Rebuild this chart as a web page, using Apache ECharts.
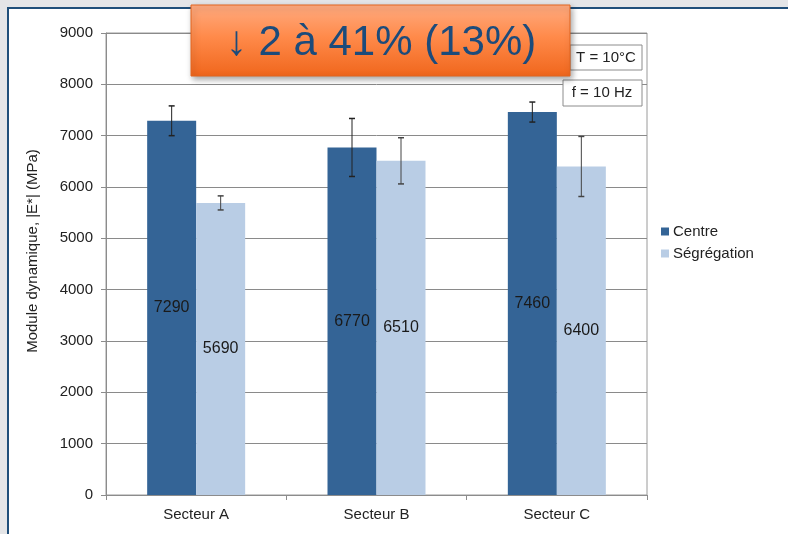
<!DOCTYPE html>
<html>
<head>
<meta charset="utf-8">
<script src="https://cdn.jsdelivr.net/npm/echarts@6/dist/echarts.min.js"></script>
<style>
  html, body { margin: 0; padding: 0; background: #e4e5e7; }
  #frame { position: absolute; left: 7px; top: 7px; width: 800px; height: 560px; background: #ffffff; border: 2px solid #1f4e79; }
  #chart { position: absolute; left: 0; top: 0; width: 788px; height: 534px; }
</style>
</head>
<body>
<div id="frame"></div>
<div id="chart"></div>
<script>
const categories = ['Secteur A', 'Secteur B', 'Secteur C'];
const centreValues = [7290, 6770, 7460];
const segregationValues = [5690, 6510, 6400];
const centreErrors = [290, 565, 195];
const segregationErrors = [137, 450, 585];
const yTicks = { min: 0, max: 9000, interval: 1000 };
const seriesNames = ['Centre', 'Ségrégation'];
const yAxisTitle = 'Module dynamique, |E*| (MPa)';
const titleText = '↓ 2 à 41% (13%)';
const noteT = 'T = 10°C';
const noteF = 'f = 10 Hz';

const FONT = 'Liberation Sans, Arial, sans-serif';
const BAR_W = 49;

function errData(vals, errs) {
  return vals.map((v, i) => [i, v - errs[i], v + errs[i]]);
}
function errRender(offset, color) {
  return function (params, api) {
    const x = api.value(0);
    const lo = api.coord([x, api.value(1)]);
    const hi = api.coord([x, api.value(2)]);
    const cx = lo[0] + offset;
    const cap = 3;
    return {
      type: 'group',
      children: [
        { type: 'line', shape: { x1: cx, y1: hi[1], x2: cx, y2: lo[1] }, style: { stroke: color, lineWidth: 1 } },
        { type: 'line', shape: { x1: cx - cap, y1: hi[1], x2: cx + cap, y2: hi[1] }, style: { stroke: color, lineWidth: 1.5 } },
        { type: 'line', shape: { x1: cx - cap, y1: lo[1], x2: cx + cap, y2: lo[1] }, style: { stroke: color, lineWidth: 1.5 } }
      ]
    };
  };
}

const chart = echarts.init(document.getElementById('chart'), null, { renderer: 'canvas' });
chart.setOption({
  backgroundColor: 'transparent',
  animation: false,
  textStyle: { fontFamily: FONT },
  grid: { left: 106, right: 141, top: 33, bottom: 39, show: true, borderColor: '#9a9a9a', borderWidth: 1, backgroundColor: 'transparent' },
  legend: {
    orient: 'vertical', left: 656, top: 219, itemWidth: 8, itemHeight: 8, itemGap: 7,
    icon: 'rect',
    textStyle: { fontSize: 15, color: '#222', fontFamily: FONT, padding: [0, 0, 0, -1] },
    data: seriesNames
  },
  xAxis: {
    type: 'category', data: categories,
    axisLine: { lineStyle: { color: '#8c8c8c' } },
    axisTick: { show: true, length: 5, lineStyle: { color: '#8c8c8c' } },
    axisLabel: { fontSize: 15, color: '#222', margin: 12, fontFamily: FONT },
    splitLine: { show: false }
  },
  yAxis: {
    type: 'value', min: yTicks.min, max: yTicks.max, interval: yTicks.interval,
    axisLine: { show: true, lineStyle: { color: '#8c8c8c' } },
    axisTick: { show: true, length: 5, lineStyle: { color: '#8c8c8c' } },
    axisLabel: { fontSize: 15, color: '#222', margin: 13, fontFamily: FONT, formatter: v => String(v) },
    splitLine: { lineStyle: { color: '#8a8a8a', width: 1 } }
  },
  series: [
    {
      name: seriesNames[0], type: 'bar', data: centreValues, barWidth: BAR_W, barGap: '0%',
      itemStyle: { color: '#346496' },
      label: { show: true, position: 'inside', fontSize: 16, color: '#1a1a1a', fontFamily: FONT }
    },
    {
      name: seriesNames[1], type: 'bar', data: segregationValues, barWidth: BAR_W, barGap: '0%',
      itemStyle: { color: '#b9cde5' },
      label: { show: true, position: 'inside', fontSize: 16, color: '#1a1a1a', fontFamily: FONT }
    },
    {
      type: 'custom', name: 'errC', data: errData(centreValues, centreErrors),
      renderItem: errRender(-BAR_W / 2, '#222'), z: 5, silent: true
    },
    {
      type: 'custom', name: 'errS', data: errData(segregationValues, segregationErrors),
      renderItem: errRender(BAR_W / 2, '#444'), z: 5, silent: true
    }
  ],
  graphic: [
    {
      type: 'text', x: 33, y: 251, rotation: Math.PI / 2, z: 11,
      style: { text: yAxisTitle, fontSize: 15, fill: '#222', fontFamily: FONT, textAlign: 'center', textVerticalAlign: 'middle' }
    },
    {
      type: 'rect', x: 570, y: 45, z: 10,
      shape: { width: 72, height: 25 },
      style: { fill: '#fff', stroke: '#8c8c8c', lineWidth: 1 }
    },
    {
      type: 'text', x: 606, y: 58, z: 11,
      style: { text: noteT, fontSize: 15, fill: '#222', fontFamily: FONT, textAlign: 'center', textVerticalAlign: 'middle' }
    },
    {
      type: 'rect', x: 563, y: 80, z: 10,
      shape: { width: 79, height: 26 },
      style: { fill: '#fff', stroke: '#8c8c8c', lineWidth: 1 }
    },
    {
      type: 'text', x: 602, y: 93, z: 11,
      style: { text: noteF, fontSize: 15, fill: '#222', fontFamily: FONT, textAlign: 'center', textVerticalAlign: 'middle' }
    },
    {
      type: 'rect', x: 191, y: 5, z: 20,
      shape: { width: 379, height: 71 },
      style: {
        fill: new echarts.graphic.LinearGradient(0, 0, 0, 1, [
          { offset: 0, color: '#ffab80' },
          { offset: 0.45, color: '#ff8a4a' },
          { offset: 1, color: '#f0661c' }
        ]),
        stroke: '#e2651f', lineWidth: 1,
        shadowBlur: 6, shadowOffsetX: 2, shadowOffsetY: 3, shadowColor: 'rgba(0,0,0,0.35)'
      }
    },
    {
      type: 'text', x: 381, y: 43, z: 21,
      style: {
        text: titleText, fontSize: 42, fill: '#1c4b7b', fontFamily: FONT,
        textAlign: 'center', textVerticalAlign: 'middle'
      }
    }
  ]
});
</script>
</body>
</html>
